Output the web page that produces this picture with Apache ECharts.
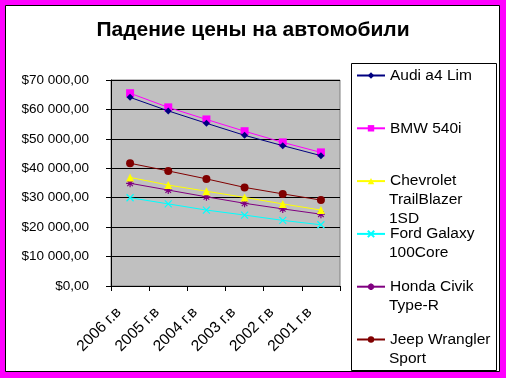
<!DOCTYPE html>
<html>
<head>
<meta charset="utf-8">
<script src="https://cdn.jsdelivr.net/npm/echarts@6/dist/echarts.min.js"></script>
<style>
  html, body { margin: 0; padding: 0; background: #ff00ff; }
  #chart { width: 506px; height: 378px; }
</style>
</head>
<body>
<div id="chart"></div>
<script>
// годы выпуска
var years = ['2006 г.в', '2005 г.в', '2004 г.в', '2003 г.в', '2002 г.в', '2001 г.в'];

// цены, $
var audi = [64100, 59500, 55300, 51200, 47700, 44300];
var bmw = [65500, 60700, 56600, 52600, 48800, 45400];
var chevrolet = [36900, 34300, 32200, 30100, 27900, 25800];
var ford = [30000, 27900, 25800, 24100, 22300, 20800];
var honda = [34900, 32600, 30300, 28100, 26200, 24400];
var jeep = [41700, 39100, 36400, 33500, 31300, 29200];

var seriesNames = ['Audi a4 Lim', 'BMW 540i', 'Chevrolet\nTrailBlazer\n1SD', 'Ford Galaxy\n100Core', 'Honda Civik\nType-R', 'Jeep Wrangler\nSport'];
var seriesData = [audi, bmw, chevrolet, ford, honda, jeep];
var colors = ['#000080', '#ff00ff', '#ffff00', '#00ffff', '#800080', '#800000'];
var symbols = [
    'diamond',
    'rect',
    'triangle',
    'path://M0,0L10,10M10,0L0,10',
    'path://M5,0L5,10M0,5L10,5M1.5,1.5L8.5,8.5M8.5,1.5L1.5,8.5',
    'circle'
];
var symbolSizes = [7, 8, 8, 7, 8, 8];

var FONT = 'Liberation Sans, Arial';
var legendFont = 15.5;
var lineH = 19;
var legendTop = 66;   // центр первого значка = legendTop + lineH/2
var legendGap = 33.8;

var myChart = echarts.init(document.getElementById('chart'));

function money(v) {
    var s = String(Math.round(v));
    s = s.replace(/\B(?=(\d{3})+(?!\d))/g, ' ');
    return '$' + s + ',00';
}

var temp_series = [];
for (var i = 0; i < seriesData.length; i++) {
    temp_series.push({
        name: seriesNames[i],
        type: 'line',
        data: seriesData[i],
        symbol: symbols[i],
        symbolSize: symbolSizes[i],
        showAllSymbol: true,
        lineStyle: {color: colors[i], width: 1},
        itemStyle: {
            color: colors[i],
            borderColor: colors[i],
            borderWidth: (i === 3 || i === 4) ? 1.2 : 0
        },
        emphasis: {disabled: true},
        z: 10 - i
    });
}

// легенда показывает первую строку имени, остальные строки - подписи ниже
var graphics = [
    {
        type: 'rect',
        shape: {x: 5.5, y: 5.5, width: 494, height: 366},
        style: {fill: '#fff', stroke: '#000', lineWidth: 1},
        z: -10
    },
    {
        type: 'rect',
        shape: {x: 351.5, y: 63.5, width: 145, height: 307},
        style: {fill: 'none', stroke: '#000', lineWidth: 1},
        z: -5
    }
];
for (var j = 0; j < seriesNames.length; j++) {
    var parts = seriesNames[j].split('\n');
    if (parts.length > 1) {
        var iconY = legendTop + lineH / 2 + j * (lineH + legendGap);
        graphics.push({
            type: 'text',
            style: {
                text: parts.slice(1).join('\n'),
                x: 389,
                y: iconY + lineH / 2,
                verticalAlign: 'top',
                fontFamily: FONT,
                fontSize: legendFont,
                lineHeight: lineH,
                fill: '#000'
            },
            z: 5
        });
    }
}

var option = {
    backgroundColor: '#ff00ff',
    animation: false,
    color: colors,
    title: {
        text: 'Падение цены на автомобили',
        left: 'center',
        top: 20,
        padding: 0,
        textStyle: {fontFamily: FONT, fontSize: 21, fontWeight: 'bold', color: '#000'}
    },
    graphic: graphics,
    legend: {
        data: seriesNames,
        orient: 'vertical',
        left: 356,
        top: legendTop,
        padding: 0,
        itemGap: legendGap,
        itemWidth: 28,
        itemHeight: 8,
        selectedMode: false,
        formatter: function (name) {
            return name.split('\n')[0];
        },
        textStyle: {
            fontFamily: FONT,
            fontSize: legendFont,
            color: '#000',
            lineHeight: lineH
        }
    },
    grid: {
        left: 111,
        right: 166,
        top: 80,
        bottom: 92,
        show: true,
        backgroundColor: '#c0c0c0',
        borderColor: '#808080',
        borderWidth: 1
    },
    xAxis: {
        type: 'category',
        data: years,
        boundaryGap: true,
        axisLine: {lineStyle: {color: '#000', width: 1}},
        axisTick: {show: true, length: 5, lineStyle: {color: '#000'}},
        axisLabel: {
            rotate: 45,
            margin: 24,
            padding: [0, 8, 0, 0],
            verticalAlign: 'bottom',
            fontFamily: FONT,
            fontSize: 15.5,
            color: '#000'
        }
    },
    yAxis: {
        type: 'value',
        min: 0,
        max: 70000,
        interval: 10000,
        axisLine: {show: true, lineStyle: {color: '#000', width: 1}},
        axisTick: {show: true, length: 5, lineStyle: {color: '#000'}},
        splitLine: {lineStyle: {color: '#000', width: 1}},
        axisLabel: {
            margin: 22,
            formatter: money,
            fontFamily: FONT,
            fontSize: 13.5,
            color: '#000'
        }
    },
    series: temp_series
};

myChart.setOption(option);
</script>
</body>
</html>
